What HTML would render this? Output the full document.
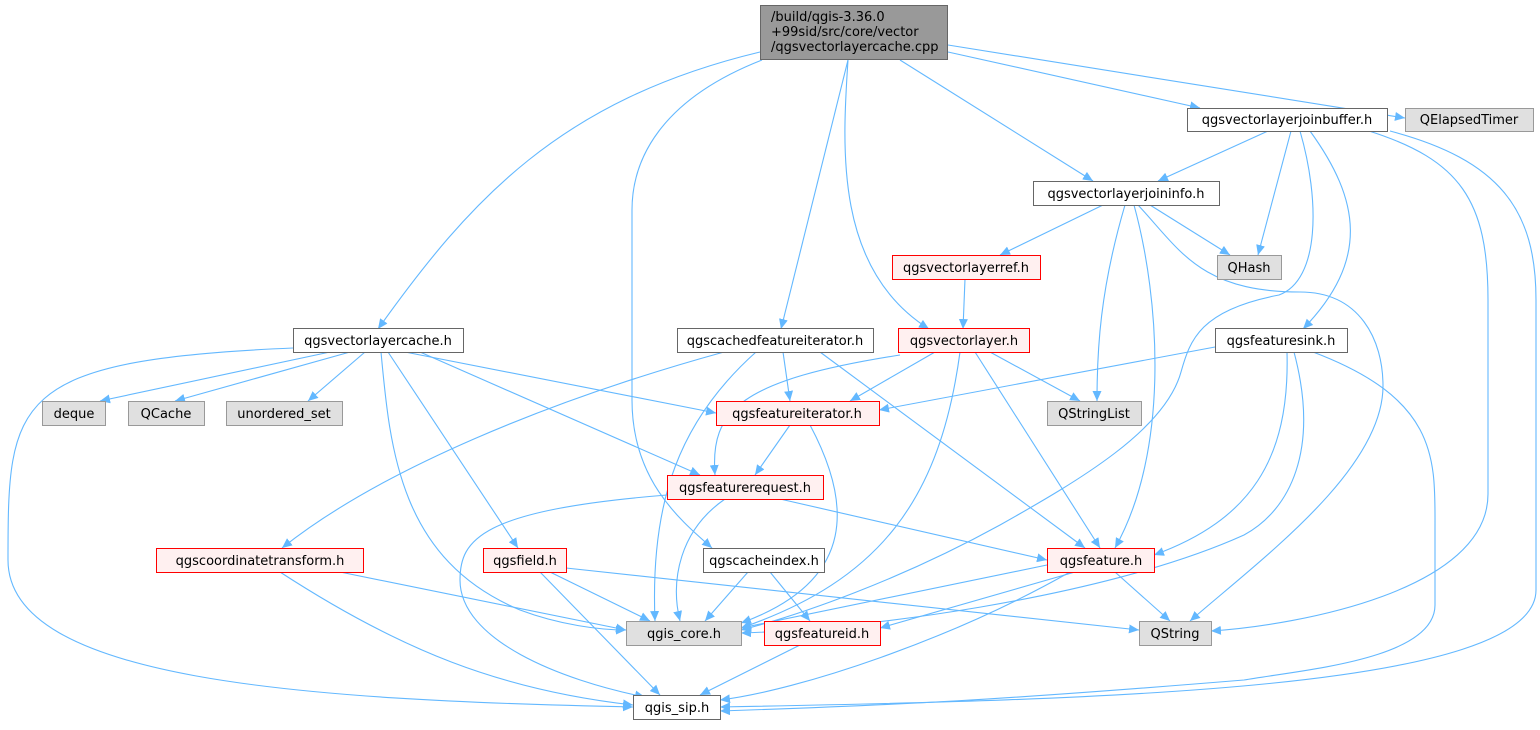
<!DOCTYPE html>
<html><head><meta charset="utf-8"><style>
html,body{margin:0;padding:0;background:#fff;}
svg text{font-family:"DejaVu Sans","Liberation Sans",sans-serif;font-size:13px;fill:#000;}
</style></head><body>
<svg width="1540" height="725" viewBox="0 0 1540 725" xmlns="http://www.w3.org/2000/svg">
<defs>
<marker id="a" markerUnits="userSpaceOnUse" markerWidth="11" markerHeight="9" refX="10" refY="4.5" orient="auto">
<path d="M0,0 L10,4.5 L0,9 z" fill="#63b8ff"/></marker>
</defs>
<g fill="none" stroke="#63b8ff" stroke-width="1.1" marker-end="url(#a)">
<path d="M760,52 C560,100 470,200 378,329"/>
<path d="M762,60 C660,100 632,160 632,210 L632,400 C632,480 680,520 712,548"/>
<path d="M848,60 L781,329"/>
<path d="M848,60 C842,150 835,270 929,329"/>
<path d="M900,60 L1093,181"/>
<path d="M948,52 L1200,108"/>
<path d="M948,45 L1405,118"/>
<path d="M1268,131 L1158,181"/>
<path d="M1291,131 L1258,255"/>
<path d="M1310,131 C1360,200 1370,260 1303,329"/>
<path d="M1300,131 C1320,200 1320,280 1279,295 C1200,310 1190,340 1181,372 C1165,430 1080,480 1000,525 C900,580 800,615 741,630"/>
<path d="M1369,131 C1460,160 1488,200 1488,300 L1488,494 C1488,590 1300,625 1211,631"/>
<path d="M1390,131 C1500,160 1536,210 1536,300 L1536,590 C1536,690 1100,700 720,707"/>
<path d="M1103,205 L1000,255"/>
<path d="M1150,205 L1230,255"/>
<path d="M1125,205 C1100,290 1097,350 1097,401"/>
<path d="M1134,205 C1160,300 1170,450 1115,548"/>
<path d="M1138,205 C1180,250 1200,292 1300,292 C1360,292 1383,340 1383,386 C1383,470 1260,560 1190,621"/>
<path d="M965,279 L963,329"/>
<path d="M330,352 L100,401"/>
<path d="M350,352 L175,401"/>
<path d="M365,352 L308,401"/>
<path d="M405,352 L716,413"/>
<path d="M420,352 L700,475"/>
<path d="M388,352 L518,548"/>
<path d="M381,352 C390,450 400,560 520,610 C560,625 600,630 626,630"/>
<path d="M293,348 C10,360 8,400 8,560 C8,680 300,700 633,707"/>
<path d="M724,352 C550,400 380,470 282,548"/>
<path d="M783,352 L790,401"/>
<path d="M756,352 C680,420 650,500 655,621"/>
<path d="M820,352 L1085,548"/>
<path d="M935,352 L850,401"/>
<path d="M900,355 C740,380 710,410 715,475"/>
<path d="M990,352 L1080,401"/>
<path d="M975,352 L1100,548"/>
<path d="M960,352 C940,500 880,580 741,628"/>
<path d="M1215,347 L879,410"/>
<path d="M1287,352 C1290,460 1250,520 1154,555"/>
<path d="M1294,352 C1320,450 1290,510 1244,535 C1100,600 850,630 741,633"/>
<path d="M1313,352 C1440,400 1435,460 1435,530 L1435,605 C1435,660 1300,670 1244,680 C1000,700 900,705 720,711"/>
<path d="M790,425 L755,475"/>
<path d="M810,425 C850,500 860,580 741,623"/>
<path d="M780,499 L1047,560"/>
<path d="M725,499 C680,530 670,580 680,621"/>
<path d="M667,495 C480,510 460,540 460,580 C460,640 560,680 645,697"/>
<path d="M340,572 L626,630"/>
<path d="M280,572 C400,650 500,690 633,705"/>
<path d="M550,572 L650,621"/>
<path d="M540,572 L660,695"/>
<path d="M566,568 L1139,630"/>
<path d="M748,572 L705,621"/>
<path d="M770,572 L810,621"/>
<path d="M1047,565 L741,628"/>
<path d="M1075,572 L880,628"/>
<path d="M1115,572 L1170,621"/>
<path d="M1070,572 C950,640 800,690 720,700"/>
<path d="M800,645 L700,695"/>
</g>
<g stroke-width="1">
<rect x="760.5" y="5.5" width="187" height="54" fill="#999" stroke="#666"/>
<rect x="1187.5" y="108.5" width="200" height="23" fill="#fff" stroke="#666"/>
<rect x="1405.5" y="108.5" width="128" height="23" fill="#e0e0e0" stroke="#999"/>
<rect x="1033.5" y="181.5" width="186" height="24" fill="#fff" stroke="#666"/>
<rect x="892.5" y="255.5" width="148" height="24" fill="#fff0f0" stroke="#f00"/>
<rect x="1217.5" y="255.5" width="64" height="24" fill="#e0e0e0" stroke="#999"/>
<rect x="293.5" y="328.5" width="170" height="24" fill="#fff" stroke="#666"/>
<rect x="677.5" y="328.5" width="196" height="24" fill="#fff" stroke="#666"/>
<rect x="898.5" y="328.5" width="131" height="24" fill="#fff0f0" stroke="#f00"/>
<rect x="1215.5" y="328.5" width="132" height="24" fill="#fff" stroke="#666"/>
<rect x="42.5" y="401.5" width="63" height="24" fill="#e0e0e0" stroke="#999"/>
<rect x="128.5" y="401.5" width="76" height="24" fill="#e0e0e0" stroke="#999"/>
<rect x="226.5" y="401.5" width="116" height="24" fill="#e0e0e0" stroke="#999"/>
<rect x="716.5" y="401.5" width="163" height="24" fill="#fff0f0" stroke="#f00"/>
<rect x="1047.5" y="401.5" width="94" height="24" fill="#e0e0e0" stroke="#999"/>
<rect x="667.5" y="475.5" width="156" height="24" fill="#fff0f0" stroke="#f00"/>
<rect x="156.5" y="548.5" width="207" height="24" fill="#fff0f0" stroke="#f00"/>
<rect x="483.5" y="548.5" width="83" height="24" fill="#fff0f0" stroke="#f00"/>
<rect x="703.5" y="548.5" width="121" height="24" fill="#fff" stroke="#666"/>
<rect x="1047.5" y="548.5" width="107" height="24" fill="#fff0f0" stroke="#f00"/>
<rect x="626.5" y="621.5" width="115" height="24" fill="#e0e0e0" stroke="#999"/>
<rect x="764.5" y="621.5" width="116" height="24" fill="#fff0f0" stroke="#f00"/>
<rect x="1139.5" y="621.5" width="72" height="24" fill="#e0e0e0" stroke="#999"/>
<rect x="633.5" y="695.5" width="87" height="24" fill="#fff" stroke="#666"/>
</g>
<text x="771" y="21">/build/qgis-3.36.0</text>
<text x="771" y="36">+99sid/src/core/vector</text>
<text x="771" y="51">/qgsvectorlayercache.cpp</text>
<g text-anchor="middle">
<text x="1287" y="124">qgsvectorlayerjoinbuffer.h</text>
<text x="1469" y="124">QElapsedTimer</text>
<text x="1126" y="198">qgsvectorlayerjoininfo.h</text>
<text x="966" y="272">qgsvectorlayerref.h</text>
<text x="1249" y="272">QHash</text>
<text x="378" y="345">qgsvectorlayercache.h</text>
<text x="775" y="345">qgscachedfeatureiterator.h</text>
<text x="964" y="345">qgsvectorlayer.h</text>
<text x="1281" y="345">qgsfeaturesink.h</text>
<text x="74" y="418">deque</text>
<text x="166" y="418">QCache</text>
<text x="284" y="418">unordered_set</text>
<text x="797" y="418">qgsfeatureiterator.h</text>
<text x="1094" y="418">QStringList</text>
<text x="745" y="492">qgsfeaturerequest.h</text>
<text x="260" y="565">qgscoordinatetransform.h</text>
<text x="525" y="565">qgsfield.h</text>
<text x="764" y="565">qgscacheindex.h</text>
<text x="1101" y="565">qgsfeature.h</text>
<text x="684" y="638">qgis_core.h</text>
<text x="822" y="638">qgsfeatureid.h</text>
<text x="1175" y="638">QString</text>
<text x="677" y="712">qgis_sip.h</text>
</g>
</svg>
</body></html>
